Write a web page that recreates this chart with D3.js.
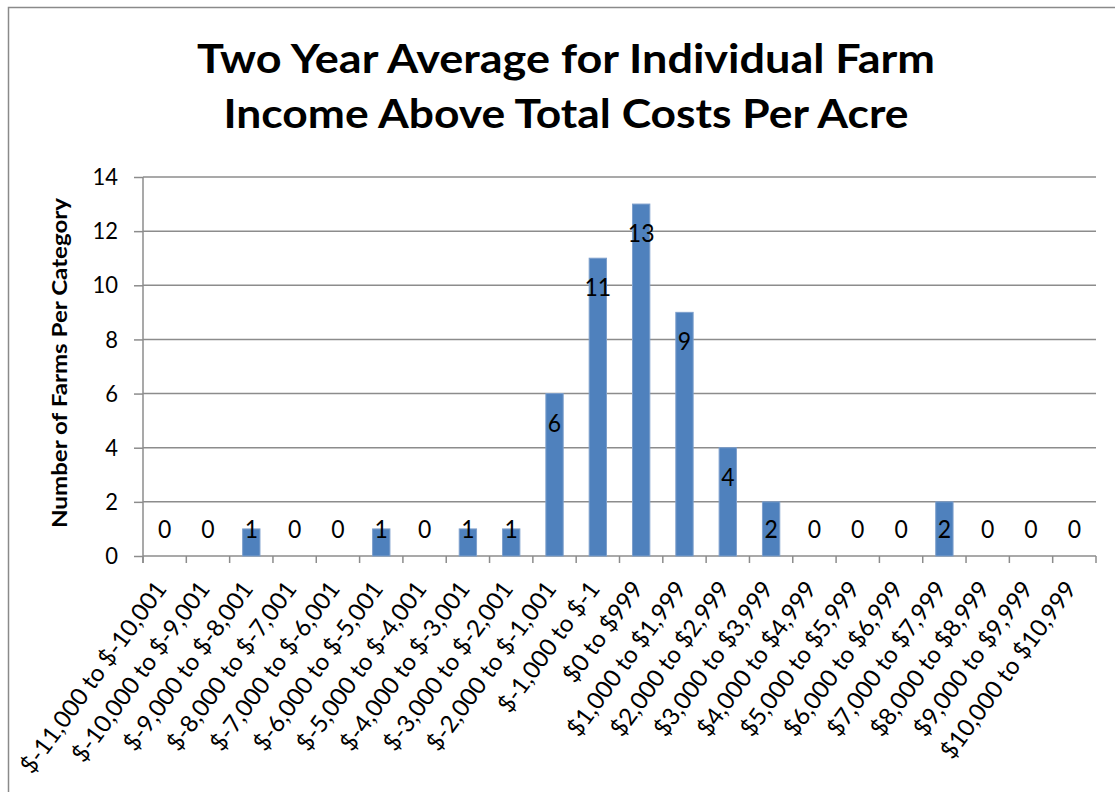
<!DOCTYPE html>
<html>
<head>
<meta charset="utf-8">
<script src="https://cdn.jsdelivr.net/npm/d3@7"></script>
<style>
  html, body { margin: 0; padding: 0; background: #fff; }
  svg { display: block; font-family: Lato, "Open Sans", sans-serif; }
</style>
</head>
<body>
<svg id="chart" width="1115" height="792"></svg>
<script>
const categories = [
  "$-11,000 to $-10,001", "$-10,000 to $-9,001", "$-9,000 to $-8,001", "$-8,000 to $-7,001",
  "$-7,000 to $-6,001", "$-6,000 to $-5,001", "$-5,000 to $-4,001", "$-4,000 to $-3,001",
  "$-3,000 to $-2,001", "$-2,000 to $-1,001", "$-1,000 to $-1", "$0 to $999",
  "$1,000 to $1,999", "$2,000 to $2,999", "$3,000 to $3,999", "$4,000 to $4,999",
  "$5,000 to $5,999", "$6,000 to $6,999", "$7,000 to $7,999", "$8,000 to $8,999",
  "$9,000 to $9,999", "$10,000 to $10,999"
];
const farmCounts = [0, 0, 1, 0, 0, 1, 0, 1, 1, 6, 11, 13, 9, 4, 2, 0, 0, 0, 2, 0, 0, 0];
const yTicks = [0, 2, 4, 6, 8, 10, 12, 14];
const titleLines = ["Two Year Average for Individual Farm", "Income Above Total Costs Per Acre"];
const yAxisTitle = "Number of Farms Per Category";

const svg = d3.select("#chart");
const plot = { left: 143, right: 1096, top: 177, bottom: 556 };
const gridColor = "#8c8c8c";
const vStretch = 1.08;

// chart border
svg.append("rect").attr("x", 8.5).attr("y", 7.5).attr("width", 1130).attr("height", 820)
  .attr("fill", "#fff").attr("stroke", "#8a8a8a").attr("stroke-width", 1.5);

const x = d3.scaleBand().domain(categories).range([plot.left, plot.right])
  .paddingInner(0.6).paddingOuter(0.3);
const y = d3.scaleLinear().domain([0, 14]).range([plot.bottom, plot.top]);

// title
svg.append("g").selectAll("text").data(titleLines).join("text")
  .attr("x", 566).attr("y", (d, i) => 73 + i * 55)
  .attr("text-anchor", "middle").attr("font-weight", 700).attr("font-size", 41)
  .attr("fill", "#000")
  .attr("textLength", (d, i) => i === 0 ? 738 : 685).attr("lengthAdjust", "spacingAndGlyphs")
  .text(d => d);

// gridlines
svg.append("g").selectAll("line").data(yTicks.filter(t => t > 0)).join("line")
  .attr("x1", plot.left).attr("x2", plot.right)
  .attr("y1", d => y(d)).attr("y2", d => y(d))
  .attr("stroke", gridColor).attr("stroke-width", 1.5);

// y axis
const yAxis = svg.append("g").attr("transform", `translate(${plot.left},0)`)
  .call(d3.axisLeft(y).tickValues(yTicks).tickSize(9).tickPadding(16).tickSizeOuter(0));
yAxis.select(".domain").remove();
yAxis.selectAll(".tick line").attr("stroke", gridColor).attr("stroke-width", 1.5);
yAxis.selectAll(".tick text").attr("font-family", "Lato").attr("font-size", 22).attr("fill", "#000")
  .attr("transform", `scale(1,${vStretch})`).attr("y", 0).attr("dy", "0.32em");
svg.append("line").attr("x1", plot.left).attr("x2", plot.left)
  .attr("y1", plot.top).attr("y2", plot.bottom + 7)
  .attr("stroke", gridColor).attr("stroke-width", 1.5);

// x axis line and boundary ticks
svg.append("line").attr("x1", plot.left).attr("x2", plot.right)
  .attr("y1", plot.bottom).attr("y2", plot.bottom)
  .attr("stroke", gridColor).attr("stroke-width", 1.5);
const gap = (x.step() - x.bandwidth()) / 2;
const boundaries = categories.map(c => x(c) - gap).concat([x(categories[categories.length - 1]) + x.bandwidth() + gap]);
svg.append("g").selectAll("line").data(boundaries).join("line")
  .attr("x1", d => d).attr("x2", d => d)
  .attr("y1", plot.bottom).attr("y2", plot.bottom + 7)
  .attr("stroke", gridColor).attr("stroke-width", 1.5);

// x labels
svg.append("g").selectAll("text").data(categories).join("text")
  .attr("transform", d => `translate(${x(d) + x.bandwidth() / 2 + 3},${plot.bottom + 33}) rotate(-54)`)
  .attr("text-anchor", "end").attr("font-size", 24).attr("fill", "#000")
  .text(d => d);

// bars
const data = categories.map((c, i) => ({ c, v: farmCounts[i] }));
svg.append("g").selectAll("rect").data(data.filter(d => d.v > 0)).join("rect")
  .attr("x", d => x(d.c)).attr("width", x.bandwidth())
  .attr("y", d => y(d.v)).attr("height", d => y(0) - y(d.v))
  .attr("fill", "#4F81BD").attr("stroke", "#7d9fcc").attr("stroke-width", 1);

// data labels
svg.append("g").selectAll("text").data(data).join("text")
  .attr("transform", d => `translate(${x(d.c) + x.bandwidth() / 2},${Math.min(y(d.v) + 29, y(0) - 27)}) scale(1,${vStretch})`)
  .attr("dy", "0.36em")
  .attr("text-anchor", "middle").attr("font-size", 23).attr("fill", "#000")
  .text(d => d.v);

// y axis title
svg.append("text")
  .attr("transform", "translate(67,363) rotate(-90)")
  .attr("text-anchor", "middle").attr("font-weight", 700).attr("font-size", 21)
  .attr("textLength", 330).attr("lengthAdjust", "spacingAndGlyphs")
  .attr("fill", "#000")
  .text(yAxisTitle);
</script>
</body>
</html>
